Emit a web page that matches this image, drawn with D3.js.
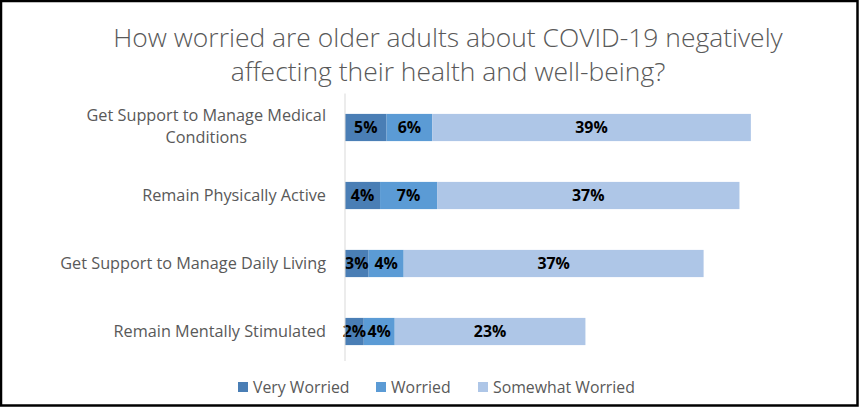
<!DOCTYPE html>
<html>
<head>
<meta charset="utf-8">
<script src="https://cdn.jsdelivr.net/npm/d3@7"></script>
<style>
  html, body { margin: 0; padding: 0; background: #fff; }
  svg { display: block; }
</style>
</head>
<body>
<svg id="chart" width="859" height="408"></svg>
<script>
const categories = [
  "Get Support to Manage Medical Conditions",
  "Remain Physically Active",
  "Get Support to Manage Daily Living",
  "Remain Mentally Stimulated"
];
const categoryLines = [
  ["Get Support to Manage Medical", "Conditions"],
  ["Remain Physically Active"],
  ["Get Support to Manage Daily Living"],
  ["Remain Mentally Stimulated"]
];
const seriesNames = ["Very Worried", "Worried", "Somewhat Worried"];
const veryWorried = [5.1, 4.3, 2.9, 2.3];
const worried = [5.6, 7.0, 4.3, 3.8];
const somewhatWorried = [39.1, 37.1, 36.8, 23.4];
const titleLines = [
  "How worried are older adults about COVID-19 negatively",
  "affecting their health and well-being?"
];

const colors = ["#4A7EB5", "#5B9BD5", "#AEC6E7"];
const font = "'Open Sans', 'Noto Sans', sans-serif";

const svg = d3.select("#chart");
const W = 859, H = 408;

svg.append("rect").attr("x", 1).attr("y", 1).attr("width", W - 2.5).attr("height", H - 3.5)
  .attr("fill", "#fff").attr("stroke", "#000").attr("stroke-width", 2.5);

// fit a font size so that the text has a given width
function fitSize(text, weight, base, target) {
  const t = svg.append("text").attr("font-family", font).attr("font-weight", weight)
    .attr("font-size", base).text(text);
  const w = t.node().getComputedTextLength();
  t.remove();
  return w > 0 ? base * target / w : base;
}

// Title
const titleSize = fitSize(titleLines[0], 300, 24, 670);
titleLines.forEach((t, i) => {
  svg.append("text")
    .attr("x", 448).attr("y", 47 + i * 34)
    .attr("text-anchor", "middle")
    .attr("font-family", font).attr("font-weight", 300)
    .attr("font-size", titleSize).attr("fill", "#595959")
    .text(t);
});

const x = d3.scaleLinear().domain([0, 60]).range([345, 834]);
const y = d3.scaleBand().domain(categories).range([93.5, 365.5]).paddingInner(0.6).paddingOuter(0.3);

const rows = categories.map((c, i) => ({
  cat: c, "Very Worried": veryWorried[i], "Worried": worried[i], "Somewhat Worried": somewhatWorried[i]
}));
const stack = d3.stack().keys(seriesNames)(rows);

const g = svg.append("g");
stack.forEach((layer, li) => {
  layer.forEach(d => {
    g.append("rect")
      .attr("x", x(d[0])).attr("y", y(d.data.cat))
      .attr("width", x(d[1]) - x(d[0])).attr("height", y.bandwidth())
      .attr("fill", colors[li]);
  });
});

// axis line
svg.append("line").attr("x1", x(0)).attr("x2", x(0))
  .attr("y1", 93.5).attr("y2", 361).attr("stroke", "#D9D9D9").attr("stroke-width", 1);

// data labels
const labelSize = fitSize("39%", "bold", 16, 32.5);
stack.forEach((layer, li) => {
  layer.forEach(d => {
    g.append("text")
      .attr("x", (x(d[0]) + x(d[1])) / 2)
      .attr("y", y(d.data.cat) + y.bandwidth() / 2)
      .attr("dy", "0.36em").attr("text-anchor", "middle")
      .attr("font-family", font).attr("font-weight", "bold")
      .attr("font-size", labelSize).attr("fill", "#000")
      .text(Math.round(d[1] - d[0]) + "%");
  });
});

// category labels
const catSize = fitSize("Get Support to Manage Daily Living", 400, 15, 266);
categories.forEach((c, i) => {
  const lines = categoryLines[i];
  const cy = y(c) + y.bandwidth() / 2;
  const lh = 22;
  const texts = lines.map((l, j) => svg.append("text")
    .attr("y", cy + (j - (lines.length - 1) / 2) * lh - (lines.length > 1 ? 1 : 0))
    .attr("dy", "0.35em")
    .attr("font-family", font).attr("font-size", catSize).attr("fill", "#595959")
    .text(l));
  const widths = texts.map(t => t.node().getComputedTextLength());
  const maxW = d3.max(widths);
  const right = 326;
  texts.forEach(t => t.attr("x", right - maxW / 2).attr("text-anchor", "middle"));
});

// legend
const legSize = fitSize("Somewhat Worried", 400, 15, 142);
const legendItems = [
  { name: seriesNames[0], sx: 238 },
  { name: seriesNames[1], sx: 376 },
  { name: seriesNames[2], sx: 478 }
];
legendItems.forEach((it, i) => {
  svg.append("rect").attr("x", it.sx).attr("y", 382).attr("width", 10).attr("height", 10).attr("fill", colors[i]);
  svg.append("text").attr("x", it.sx + 15).attr("y", 387).attr("dy", "0.35em")
    .attr("font-family", font).attr("font-size", legSize).attr("fill", "#595959")
    .text(it.name);
});
</script>
</body>
</html>
